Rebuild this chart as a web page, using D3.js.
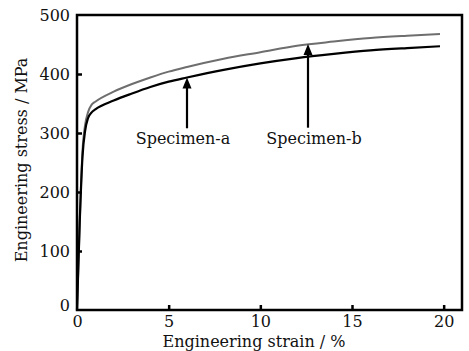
<!DOCTYPE html>
<html lang="en">
<head>
    <meta charset="UTF-8">
    <title>stressStrain</title>
    <script src="https://d3js.org/d3.v7.min.js"></script>
    <style>
        body {
            margin: 0;
            background: #fff;
        }
        svg text {
            font-family: "DejaVu Serif", serif;
            fill: #111;
        }
    </style>
</head>
<body>
    <div id="chart"></div>
    <script>
        // strain (%) / stress (MPa)
        const strainA = [0, 0.15, 0.3, 0.45, 0.6, 0.8, 1, 2, 3, 4, 5, 6, 8, 10, 12, 14, 16, 18, 19.8];
        const stressA = [0, 150, 260, 305, 325, 335, 340, 355, 367, 378, 387, 394, 407, 418, 427, 434, 440, 444, 447];
        const strainB = [0, 0.15, 0.3, 0.45, 0.6, 0.8, 1, 2, 3, 4, 5, 6, 8, 10, 12, 14, 16, 18, 19.8];
        const stressB = [0, 150, 270, 315, 335, 348, 353, 370, 383, 394, 404, 412, 426, 437, 448, 455, 461, 465, 468];
        const xTicks = [0, 5, 10, 15, 20];
        const yTicks = [0, 100, 200, 300, 400, 500];
        // annotation: label, arrow at strain, arrow tip stress, arrow base stress
        const labels = ["Specimen-a", "Specimen-b"];
        const arrowStrain = [6, 12.6];
        const arrowTip = [394, 451];
        const arrowBase = [308, 309];

        const W = 469, H = 351;
        const margin = {top: 15, right: 7, bottom: 41, left: 77};
        const width = W - margin.left - margin.right,
              height = H - margin.top - margin.bottom;

        const svg = d3.select("#chart").append("svg")
            .attr("width", W)
            .attr("height", H);
        const g = svg.append("g")
            .attr("transform", `translate(${margin.left},${margin.top})`);

        const x = d3.scaleLinear().domain([0, 21]).range([0, width]);
        const y = d3.scaleLinear().domain([0, 500]).range([height, 0]);

        // curves
        const line = d3.line()
            .x(d => x(d[0]))
            .y(d => y(d[1]))
            .curve(d3.curveMonotoneX);
        g.append("path")
            .datum(strainB.map((s, i) => [s, stressB[i]]))
            .attr("fill", "none")
            .attr("stroke", "#6e6e6e")
            .attr("stroke-width", 2)
            .attr("d", line);
        g.append("path")
            .datum(strainA.map((s, i) => [s, stressA[i]]))
            .attr("fill", "none")
            .attr("stroke", "#000")
            .attr("stroke-width", 2.2)
            .attr("d", line);

        // frame
        g.append("rect")
            .attr("width", width)
            .attr("height", height)
            .attr("fill", "none")
            .attr("stroke", "#000")
            .attr("stroke-width", 2.5);

        // axes with inward ticks
        const xAxis = g.append("g")
            .attr("transform", `translate(0,${height})`)
            .call(d3.axisBottom(x).tickValues(xTicks).tickSizeInner(-5).tickSizeOuter(0).tickPadding(6));
        const yAxis = g.append("g")
            .call(d3.axisLeft(y).tickValues(yTicks).tickSizeInner(-5).tickSizeOuter(0).tickPadding(7));
        [xAxis, yAxis].forEach(a => {
            a.attr("font-family", null).attr("font-size", null);
            a.select(".domain").remove();
            a.selectAll(".tick line").attr("stroke", "#000").attr("stroke-width", 2.5);
            a.selectAll(".tick text")
                .attr("font-size", 16)
                .attr("fill", "#111");
        });
        xAxis.selectAll(".tick line").filter(d => d === 0).remove();
        yAxis.selectAll(".tick line").filter(d => d === 0 || d === 500).remove();
        yAxis.selectAll(".tick").filter(d => d === 0).select("text").attr("dy", "0.05em");

        // axis titles
        svg.append("text")
            .attr("x", 254)
            .attr("y", 347)
            .attr("text-anchor", "middle")
            .attr("font-size", 16)
            .text("Engineering strain / %");
        svg.append("text")
            .attr("transform", `translate(27,160) rotate(-90)`)
            .attr("text-anchor", "middle")
            .attr("font-size", 16)
            .text("Engineering stress / MPa");

        // arrows and labels
        labels.forEach((lab, i) => {
            const ax = x(arrowStrain[i]);
            const tip = y(arrowTip[i]);
            const base = y(arrowBase[i]);
            g.append("line")
                .attr("x1", ax).attr("x2", ax)
                .attr("y1", base).attr("y2", tip + 8)
                .attr("stroke", "#000")
                .attr("stroke-width", 2.2);
            g.append("path")
                .attr("d", `M${ax},${tip} L${ax - 4.5},${tip + 11} L${ax + 4.5},${tip + 11} Z`)
                .attr("fill", "#000");
            g.append("text")
                .attr("x", ax + (i === 0 ? -4 : 6))
                .attr("y", base + 16)
                .attr("text-anchor", "middle")
                .attr("font-size", 16)
                .text(lab);
        });
    </script>
</body>
</html>
